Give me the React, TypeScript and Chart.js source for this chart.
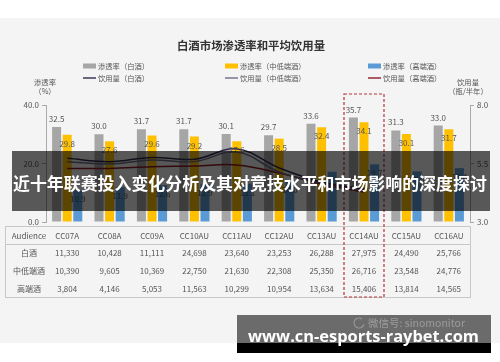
import React, { useEffect, useRef } from "react";
import { Chart, registerables } from "chart.js";

Chart.register(...registerables);

// ---------- data ----------
const categories = ["CC07A", "CC08A", "CC09A", "CC10AU", "CC11AU", "CC12AU", "CC13AU", "CC14AU", "CC15AU", "CC16AU"];
const penBaijiu = [32.5, 30.0, 31.7, 31.7, 30.1, 29.7, 33.6, 35.7, 31.3, 33.0];
const penMidLow = [29.8, 27.6, 29.6, 29.2, 27.6, 28.5, 32.4, 34.1, 30.1, 31.7];
const penHigh = [10.9, 11.9, 12.6, 12.9, 13.1, 14.0, 17.2, 19.7, 17.3, 18.4];
const volBaijiu = [5.72, 5.58, 5.76, 5.68, 6.12, 5.31, 4.71, 4.41, null, null];
const volMidLow = [5.58, 5.48, 5.65, 5.58, 5.99, 5.14, 4.67, 4.37, null, null];
const volHigh = [5.29, 5.29, 5.36, 5.39, 5.44, 5.09, 4.62, 4.28, null, null];
const leftTicks = [0, 20, 40];
const rightTicks = [3, 5.5, 8];
const tableHeader = "Audience";
const tableRowLabels = ["白酒", "中低端酒", "高端酒"];
const audBaijiu = [11330, 10428, 11111, 24698, 23640, 23253, 26288, 27975, 24490, 25766];
const audMidLow = [10390, 9605, 10369, 22750, 21630, 22308, 25350, 26716, 23548, 24776];
const audHigh = [3804, 4146, 5053, 11563, 10299, 10954, 13634, 15406, 13814, 14565];
const highlightIndex = 7;
const chartTitle = "白酒市场渗透率和平均饮用量";
const leftAxisTitle = ["渗透率", "（%）"];
const rightAxisTitle = ["饮用量", "（瓶/半年）"];
const bannerText = "近十年联赛投入变化分析及其对竞技水平和市场影响的深度探讨";
const watermarkText = "www.cn-esports-raybet.com";
const wechatText = "微信号: sinomonitor";

const COLORS = {
  gray: "#a6a6a6",
  yellow: "#ffc000",
  blue: "#5b9bd5",
  lineBaijiu: "#2e2a4f",
  lineMidLow: "#6c6c86",
  lineHigh: "#8b1c24",
};

const legendItems = [
  { kind: "box", color: COLORS.gray, text: "渗透率（白酒）", col: 0, row: 0 },
  { kind: "box", color: COLORS.yellow, text: "渗透率（中低端酒）", col: 1, row: 0 },
  { kind: "box", color: COLORS.blue, text: "渗透率（高端酒）", col: 2, row: 0 },
  { kind: "line", color: COLORS.lineBaijiu, text: "饮用量（白酒）", col: 0, row: 1 },
  { kind: "line", color: COLORS.lineMidLow, text: "饮用量（中低端酒）", col: 1, row: 1 },
  { kind: "line", color: COLORS.lineHigh, text: "饮用量（高端酒）", col: 2, row: 1 },
];

const FONT = '"Noto Sans CJK SC", "Noto Sans", sans-serif';

const decorPlugin = {
  id: "decor",
  beforeDraw(chart: any) {
    const ctx = chart.ctx as CanvasRenderingContext2D;
    ctx.save();
    ctx.fillStyle = "#ffffff";
    ctx.fillRect(0, 0, 500, 362);
    ctx.fillStyle = "#f4f4f4";
    ctx.fillRect(0, 18, 500, 325);

    // title
    ctx.fillStyle = "#333";
    ctx.font = `bold 11.4px ${FONT}`;
    ctx.textAlign = "center";
    ctx.textBaseline = "middle";
    ctx.fillText(chartTitle, 251, 46);

    // legend
    const colX = [83, 225, 368];
    const rowY = [66, 78];
    ctx.font = `7.3px ${FONT}`;
    ctx.textAlign = "left";
    legendItems.forEach((it) => {
      const x = colX[it.col];
      const y = rowY[it.row];
      if (it.kind === "box") {
        ctx.fillStyle = it.color;
        ctx.fillRect(x, y - 2.5, 13, 5);
      } else {
        ctx.strokeStyle = it.color;
        ctx.lineWidth = 1.4;
        ctx.beginPath();
        ctx.moveTo(x, y);
        ctx.lineTo(x + 13, y);
        ctx.stroke();
      }
      ctx.fillStyle = "#555";
      ctx.fillText(it.text, x + 15, y);
    });

    // axis titles
    ctx.textAlign = "center";
    ctx.font = `7.3px ${FONT}`;
    ctx.fillStyle = "#555";
    ctx.fillText(leftAxisTitle[0], 45, 82);
    ctx.fillText(leftAxisTitle[1], 45, 91);
    ctx.fillText(rightAxisTitle[0], 468, 82);
    ctx.fillText(rightAxisTitle[1], 468, 91);
    ctx.restore();
  },
  afterDatasetsDraw(chart: any) {
    const ctx = chart.ctx as CanvasRenderingContext2D;
    ctx.save();
    ctx.font = `8px ${FONT}`;
    ctx.textAlign = "center";
    ctx.textBaseline = "middle";
    ctx.fillStyle = "#555";
    [0, 1, 2].forEach((di) => {
      const meta = chart.getDatasetMeta(di);
      meta.data.forEach((el: any, i: number) => {
        const v = chart.data.datasets[di].data[i] as number;
        const y = di === 0 ? el.y - 8 : el.y + 9;
        ctx.fillText(v.toFixed(1), el.x, y);
      });
    });
    ctx.restore();
  },
  afterDraw(chart: any) {
    const ctx = chart.ctx as CanvasRenderingContext2D;
    const xs = chart.scales.x;
    ctx.save();

    // table
    const left = 5, right = 470, top = 226, hdr = 244, bottom = 297;
    ctx.strokeStyle = "#c8c8c8";
    ctx.lineWidth = 1;
    ctx.strokeRect(left + 0.5, top + 0.5, right - left, bottom - top);
    ctx.beginPath();
    ctx.moveTo(left, hdr + 0.5);
    ctx.lineTo(right, hdr + 0.5);
    ctx.stroke();

    ctx.font = `8px ${FONT}`;
    ctx.textAlign = "center";
    ctx.textBaseline = "middle";
    ctx.fillStyle = "#555";
    ctx.fillText(tableHeader, 29, 236);
    categories.forEach((c, i) => ctx.fillText(c, xs.getPixelForValue(i), 236));
    const rows = [audBaijiu, audMidLow, audHigh];
    const rowY = [253, 271, 289];
    rows.forEach((row, r) => {
      ctx.fillText(tableRowLabels[r], 29, rowY[r]);
      row.forEach((v, i) => ctx.fillText(v.toLocaleString("en-US"), xs.getPixelForValue(i), rowY[r]));
    });

    // highlight dashed box
    const cx = xs.getPixelForValue(highlightIndex);
    ctx.strokeStyle = "#b8343a";
    ctx.lineWidth = 1.2;
    ctx.setLineDash([3, 2]);
    ctx.strokeRect(cx - 20, 94, 40, 203);
    ctx.setLineDash([]);

    // banner
    ctx.fillStyle = "rgba(0,0,0,0.64)";
    ctx.fillRect(12, 151, 478, 60);
    ctx.fillStyle = "#ffffff";
    ctx.textAlign = "left";
    ctx.textBaseline = "middle";
    ctx.font = `bold 17px ${FONT}`;
    let w = ctx.measureText(bannerText).width;
    let size = (17 * 474) / w;
    ctx.font = `bold ${size.toFixed(2)}px ${FONT}`;
    ctx.fillText(bannerText, 13, 184);

    // watermark
    ctx.fillStyle = "rgba(0,0,0,0.56)";
    ctx.fillRect(237, 315, 254, 28);
    ctx.fillStyle = "#000";
    ctx.fillRect(237, 343, 254, 10);
    // wechat logo + text
    ctx.strokeStyle = "rgba(255,255,255,0.3)";
    ctx.lineWidth = 1.2;
    ctx.beginPath();
    ctx.arc(359, 323, 5, 0.3, Math.PI * 1.7);
    ctx.stroke();
    ctx.fillStyle = "rgba(255,255,255,0.32)";
    ctx.font = `10.5px ${FONT}`;
    ctx.textBaseline = "middle";
    ctx.fillText(wechatText, 368, 323);

    ctx.fillStyle = "#ffffff";
    ctx.textBaseline = "alphabetic";
    ctx.font = `bold 18px "Open Sans", "DejaVu Sans", sans-serif`;
    w = ctx.measureText(watermarkText).width;
    size = (18 * 231) / w;
    ctx.font = `bold ${size.toFixed(2)}px "Open Sans", "DejaVu Sans", sans-serif`;
    ctx.fillText(watermarkText, 248, 342);

    ctx.restore();
  },
};

export default function App() {
  const ref = useRef<HTMLCanvasElement | null>(null);

  useEffect(() => {
    document.body.style.margin = "0";
    const canvas = ref.current;
    if (!canvas) return;
    const tickFont = { size: 8, family: FONT };
    const chart = new Chart(canvas, {
      type: "bar",
      data: {
        labels: categories,
        datasets: [
          { type: "bar", label: "渗透率（白酒）", data: penBaijiu, backgroundColor: COLORS.gray, yAxisID: "y", order: 2, categoryPercentage: 0.75, barPercentage: 0.85 } as any,
          { type: "bar", label: "渗透率（中低端酒）", data: penMidLow, backgroundColor: COLORS.yellow, yAxisID: "y", order: 2, categoryPercentage: 0.75, barPercentage: 0.85 } as any,
          { type: "bar", label: "渗透率（高端酒）", data: penHigh, backgroundColor: COLORS.blue, yAxisID: "y", order: 2, categoryPercentage: 0.75, barPercentage: 0.85 } as any,
          { type: "line", label: "饮用量（白酒）", data: volBaijiu, borderColor: COLORS.lineBaijiu, borderWidth: 1.5, pointRadius: 0, tension: 0.4, yAxisID: "y1", order: 0 } as any,
          { type: "line", label: "饮用量（中低端酒）", data: volMidLow, borderColor: COLORS.lineMidLow, borderWidth: 1.5, pointRadius: 0, tension: 0.4, yAxisID: "y1", order: 0 } as any,
          { type: "line", label: "饮用量（高端酒）", data: volHigh, borderColor: COLORS.lineHigh, borderWidth: 1.5, pointRadius: 0, tension: 0.4, yAxisID: "y1", order: 0 } as any,
        ],
      },
      options: {
        responsive: false,
        devicePixelRatio: 1,
        animation: false,
        layout: { padding: { top: 105, bottom: 140, left: 0, right: 0 } },
        plugins: { legend: { display: false }, tooltip: { enabled: false }, title: { display: false } },
        scales: {
          x: { display: false, offset: true },
          y: {
            position: "left",
            min: 0,
            max: 40,
            afterBuildTicks: (s: any) => { s.ticks = leftTicks.map((v) => ({ value: v })); },
            afterFit: (s: any) => { s.width = 46; },
            ticks: { font: tickFont, color: "#555", padding: 3, callback: (v: any) => Number(v).toFixed(1) },
            grid: { drawOnChartArea: false, tickLength: 4, color: "#aaa" },
            border: { display: true, color: "#aaa" },
          },
          y1: {
            position: "right",
            min: 3,
            max: 8,
            afterBuildTicks: (s: any) => { s.ticks = rightTicks.map((v) => ({ value: v })); },
            afterFit: (s: any) => { s.width = 30; },
            ticks: { font: tickFont, color: "#555", padding: 3, callback: (v: any) => Number(v).toFixed(1) },
            grid: { drawOnChartArea: false, tickLength: 4, color: "#aaa" },
            border: { display: true, color: "#aaa" },
          },
        },
      } as any,
      plugins: [decorPlugin as any],
    });
    return () => chart.destroy();
  }, []);

  return (
    <div style={{ position: "fixed", left: 0, top: 0, width: 500, height: 362 }}>
      <canvas ref={ref} width={500} height={362} style={{ width: 500, height: 362, display: "block" }} />
    </div>
  );
}
